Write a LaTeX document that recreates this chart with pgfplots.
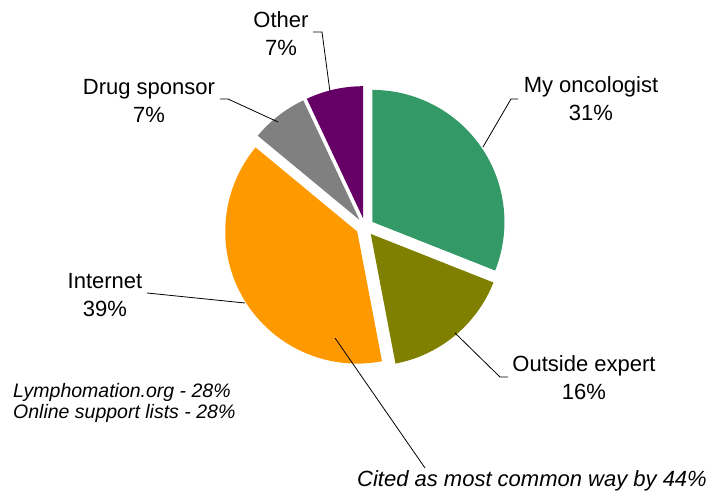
\documentclass[border=0pt]{standalone}
\usepackage{pgfplots}
\usepackage{pgfplotstable}
\pgfplotsset{compat=1.18}
\usepackage{fontspec}
\setmainfont{Liberation Sans}

\definecolor{pie0}{HTML}{339966}
\definecolor{pie1}{HTML}{808000}
\definecolor{pie2}{HTML}{FF9900}
\definecolor{pie3}{HTML}{808080}
\definecolor{pie4}{HTML}{660066}

% share of each source, clockwise from 12 o'clock
\pgfplotstableread{
source pct
oncologist 31
expert 16
internet 39
sponsor 7
other 7
}\piedata

\newcommand\lbl{\fontsize{22}{28}\selectfont}
\newcommand\note{\fontsize{19.5}{21}\selectfont\itshape}

\begin{document}
\begin{tikzpicture}
% start, end and middle angle of each wedge
\xdef\cum{0}
\foreach \i in {0,...,4}{
  \pgfplotstablegetelem{\i}{pct}\of\piedata
  \pgfmathsetmacro\a{90-3.6*\cum}
  \pgfmathsetmacro\b{90-3.6*(\cum+\pgfplotsretval)}
  \pgfmathsetmacro\m{(\a+\b)/2}
  \expandafter\xdef\csname pieA\i\endcsname{\a}
  \expandafter\xdef\csname pieB\i\endcsname{\b}
  \expandafter\xdef\csname pieM\i\endcsname{\m}
  \pgfmathsetmacro\c{\cum+\pgfplotsretval}
  \xdef\cum{\c}
}
\begin{axis}[
  x=1pt, y=1pt,
  xmin=0, xmax=715, ymin=0, ymax=502,
  hide axis, clip=false,
]
\path (axis cs:0,0) rectangle (axis cs:715,502);
\pgfplotsinvokeforeach{0,...,4}{
  \fill[pie#1, shift={(\csname pieM#1\endcsname:9pt)}]
    (axis cs:365,275) -- ++(\csname pieA#1\endcsname:132pt)
    arc[start angle=\csname pieA#1\endcsname,
        end angle=\csname pieB#1\endcsname, radius=132pt] -- cycle;
}

% leader lines
\draw[line width=0.8pt] (axis cs:313,470) -- (axis cs:322,470) -- (axis cs:330,410);
\draw[line width=0.8pt] (axis cs:220,403) -- (axis cs:228,403) -- (axis cs:278,380);
\draw[line width=0.8pt] (axis cs:518,403) -- (axis cs:511,403) -- (axis cs:483,355);
\draw[line width=0.8pt] (axis cs:508,125) -- (axis cs:500,125) -- (axis cs:455,169);
\draw[line width=0.8pt] (axis cs:147,209) -- (axis cs:245,199);
\draw[line width=0.8pt] (axis cs:335,164) -- (axis cs:425,34);

% labels
\node[align=center, font=\lbl] at (axis cs:281,468.5) {Other\\7\%};
\node[align=center, font=\lbl] at (axis cs:149,401) {Drug sponsor\\7\%};
\node[align=center, font=\lbl] at (axis cs:591,403.5) {My oncologist\\31\%};
\node[align=center, font=\lbl] at (axis cs:584,124) {Outside expert\\16\%};
\node[align=center, font=\lbl] at (axis cs:105,206.5) {Internet\\39\%};
\node[align=left, anchor=west, font=\note, inner sep=0pt] at (axis cs:13,99.5)
  {Lymphomation.org - 28\%\\Online support lists - 28\%};
\node[font=\lbl\itshape] at (axis cs:532,21) {Cited as most common way by 44\%};
\end{axis}
\end{tikzpicture}
\end{document}
